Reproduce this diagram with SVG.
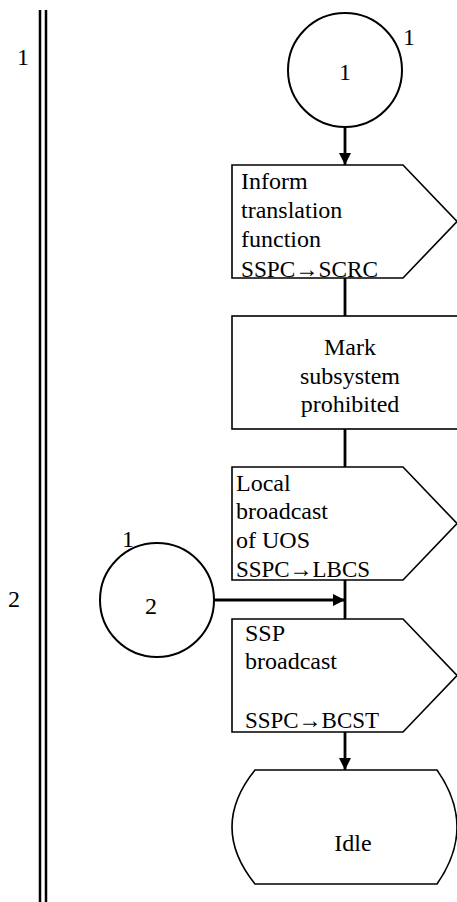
<svg xmlns="http://www.w3.org/2000/svg" width="457" height="902" viewBox="0 0 457 902">
<defs>
<style>
.shape{fill:#fff;stroke:#000;stroke-width:1.6}
.circ{fill:#fff;stroke:#000;stroke-width:2}
.conn{stroke:#000;stroke-width:2.8;fill:none}
.mid{text-anchor:middle}
</style>
<marker id="arr" markerWidth="12" markerHeight="12" refX="12" refY="6" orient="auto" markerUnits="userSpaceOnUse">
<path d="M0,0 L12,6 L0,12 Z" fill="#000"/>
</marker>
</defs>
<rect width="457" height="902" fill="#fff"/>
<g font-family="Liberation Serif, DejaVu Serif, serif" font-size="24" fill="#000">
<g id="frame">
<line x1="40" y1="10" x2="40" y2="902" stroke="#000" stroke-width="2.5"/>
<line x1="46" y1="10" x2="46" y2="902" stroke="#000" stroke-width="2.5"/>
<text x="23" y="65" class="mid">1</text>
<text x="14" y="607" class="mid">2</text>
</g>
<g id="connectors">
<line class="conn" x1="345" y1="127" x2="345" y2="165" marker-end="url(#arr)"/>
<line class="conn" x1="345" y1="278" x2="345" y2="316"/>
<line class="conn" x1="345" y1="429" x2="345" y2="467"/>
<line class="conn" x1="345" y1="580" x2="345" y2="619"/>
<line class="conn" x1="214" y1="600" x2="345" y2="600" marker-end="url(#arr)"/>
<line class="conn" x1="345" y1="732" x2="345" y2="770" marker-end="url(#arr)"/>
</g>
<g id="conn1">
<circle class="circ" cx="345" cy="70" r="57"/>
<text x="345" y="80" class="mid">1</text>
<text x="403" y="45">1</text>
</g>
<g id="out1">
<path class="shape" d="M232,165 H403 L457,221.5 L403,278 H232 Z"/>
<text x="241" y="189">Inform</text>
<text x="241" y="218">translation</text>
<text x="241" y="247">function</text>
<text x="241" y="277" textLength="137" lengthAdjust="spacingAndGlyphs">SSPC→SCRC</text>
</g>
<g id="task1">
<rect class="shape" x="232" y="316" width="228" height="113"/>
<text x="350" y="355" class="mid">Mark</text>
<text x="350" y="384" class="mid">subsystem</text>
<text x="350" y="412" class="mid">prohibited</text>
</g>
<g id="out2">
<path class="shape" d="M232,467 H403 L457,523.5 L403,580 H232 Z"/>
<text x="236" y="491">Local</text>
<text x="236" y="519">broadcast</text>
<text x="236" y="548">of UOS</text>
<text x="236" y="577" textLength="134" lengthAdjust="spacingAndGlyphs">SSPC→LBCS</text>
</g>
<g id="conn2">
<circle class="circ" cx="157" cy="600" r="57"/>
<text x="151" y="614" class="mid">2</text>
<text x="122" y="547">1</text>
</g>
<g id="out3">
<path class="shape" d="M232,619 H403 L457,675.5 L403,732 H232 Z"/>
<text x="245" y="641">SSP</text>
<text x="245" y="669">broadcast</text>
<text x="245" y="728" textLength="134" lengthAdjust="spacingAndGlyphs">SSPC→BCST</text>
</g>
<g id="idle">
<path class="shape" d="M255,770 L437,770 Q477,827 437,884 L255,884 Q209,827 255,770 Z"/>
<text x="353" y="851" class="mid">Idle</text>
</g>
</g>
</svg>
